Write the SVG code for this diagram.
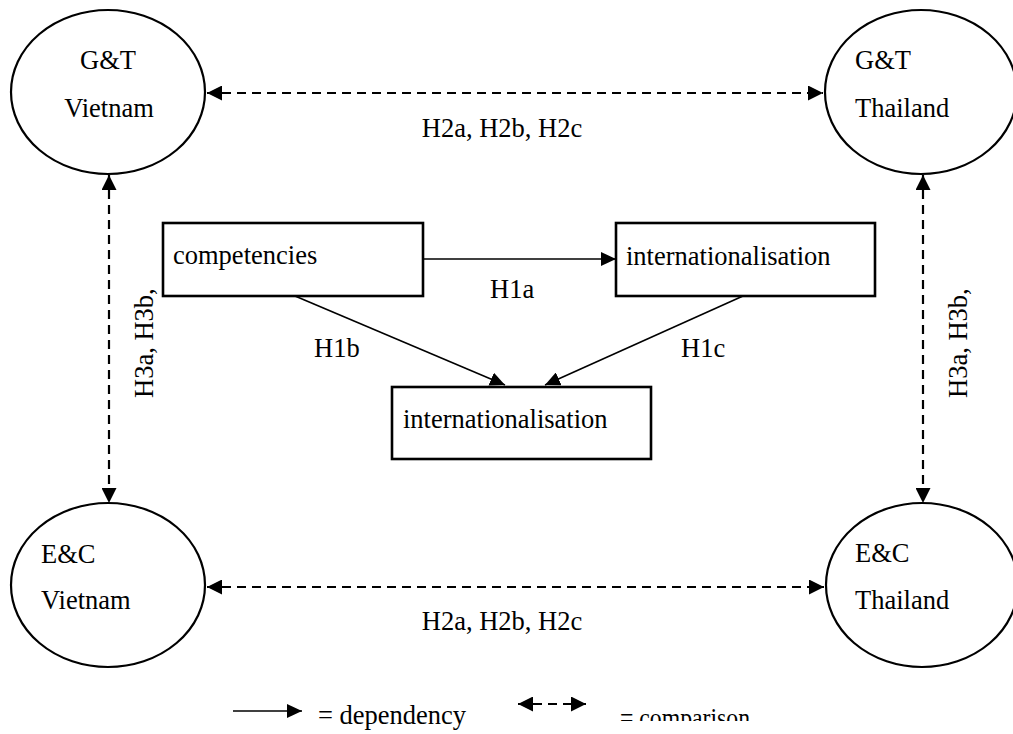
<svg xmlns="http://www.w3.org/2000/svg" width="1013" height="734" viewBox="0 0 1013 734">
<style>
text{font-family:"Liberation Serif","Times New Roman",serif;font-size:26.5px;fill:#000}
.ell{fill:#fff;stroke:#000;stroke-width:2.2}
.box{fill:#fff;stroke:#000;stroke-width:2.6}
.dep{stroke:#000;stroke-width:1.6;fill:none;marker-end:url(#ah)}
.cmp{stroke:#000;stroke-width:2.2;fill:none;stroke-dasharray:9 6;marker-start:url(#ahs);marker-end:url(#ah2)}
</style>
<defs>
<marker id="ah" markerUnits="userSpaceOnUse" markerWidth="15" markerHeight="14" refX="15" refY="7" orient="auto"><path d="M0,0 L15,7 L0,14 Z" fill="#000"/></marker>
<marker id="ah2" markerUnits="userSpaceOnUse" markerWidth="15" markerHeight="15" refX="15" refY="7.5" orient="auto"><path d="M0,0 L15,7.5 L0,15 Z" fill="#000"/></marker>
<marker id="ahs" markerUnits="userSpaceOnUse" markerWidth="15" markerHeight="15" refX="0" refY="7.5" orient="auto"><path d="M15,0 L0,7.5 L15,15 Z" fill="#000"/></marker>
<clipPath id="clipB"><rect x="0" y="0" width="1013" height="721"/></clipPath>
</defs>
<g id="connectors">
<line class="cmp" x1="207" y1="93" x2="823" y2="93"/>
<line class="cmp" x1="207" y1="587" x2="824" y2="587"/>
<line class="cmp" x1="109" y1="175" x2="109" y2="503"/>
<line class="cmp" x1="923" y1="175" x2="923" y2="503"/>
<line class="dep" x1="423" y1="259" x2="616" y2="259"/>
<line class="dep" x1="295" y1="296" x2="505" y2="385"/>
<line class="dep" x1="743" y1="296" x2="545" y2="385"/>
<text x="502" y="137" text-anchor="middle">H2a, H2b, H2c</text>
<text x="502" y="630" text-anchor="middle">H2a, H2b, H2c</text>
<text transform="translate(153,398) rotate(-90)">H3a, H3b,</text>
<text transform="translate(967,398) rotate(-90)">H3a, H3b,</text>
<text x="490" y="298">H1a</text>
<text x="314" y="357">H1b</text>
<text x="681" y="357">H1c</text>
</g>
<g id="gt-vietnam">
<ellipse class="ell" cx="108" cy="92" rx="97" ry="82"/>
<text x="108" y="69" text-anchor="middle">G&amp;T</text>
<text x="109" y="117" text-anchor="middle">Vietnam</text>
</g>
<g id="gt-thailand">
<ellipse class="ell" cx="921" cy="92" rx="96" ry="82"/>
<text x="855" y="69">G&amp;T</text>
<text x="855" y="117">Thailand</text>
</g>
<g id="ec-vietnam">
<ellipse class="ell" cx="108" cy="585" rx="97" ry="82"/>
<text x="41" y="563">E&amp;C</text>
<text x="41" y="609">Vietnam</text>
</g>
<g id="ec-thailand">
<ellipse class="ell" cx="922" cy="585" rx="96" ry="82"/>
<text x="855" y="562">E&amp;C</text>
<text x="855" y="609">Thailand</text>
</g>
<g id="competencies">
<rect class="box" x="163" y="223" width="260" height="73"/>
<text x="173" y="264">competencies</text>
</g>
<g id="internationalisation-1">
<rect class="box" x="616" y="223" width="259" height="73"/>
<text x="626" y="265">internationalisation</text>
</g>
<g id="internationalisation-2">
<rect class="box" x="392" y="387" width="259" height="72"/>
<text x="403" y="428">internationalisation</text>
</g>
<g id="legend">
<line class="dep" x1="233" y1="711" x2="302" y2="711"/>
<text x="318" y="724">= dependency</text>
<line class="cmp" x1="518" y1="704" x2="586" y2="704" stroke-dasharray="8 6"/>
<g clip-path="url(#clipB)"><text x="620" y="727" textLength="130" lengthAdjust="spacingAndGlyphs">= comparison</text></g>
</g>
</svg>
